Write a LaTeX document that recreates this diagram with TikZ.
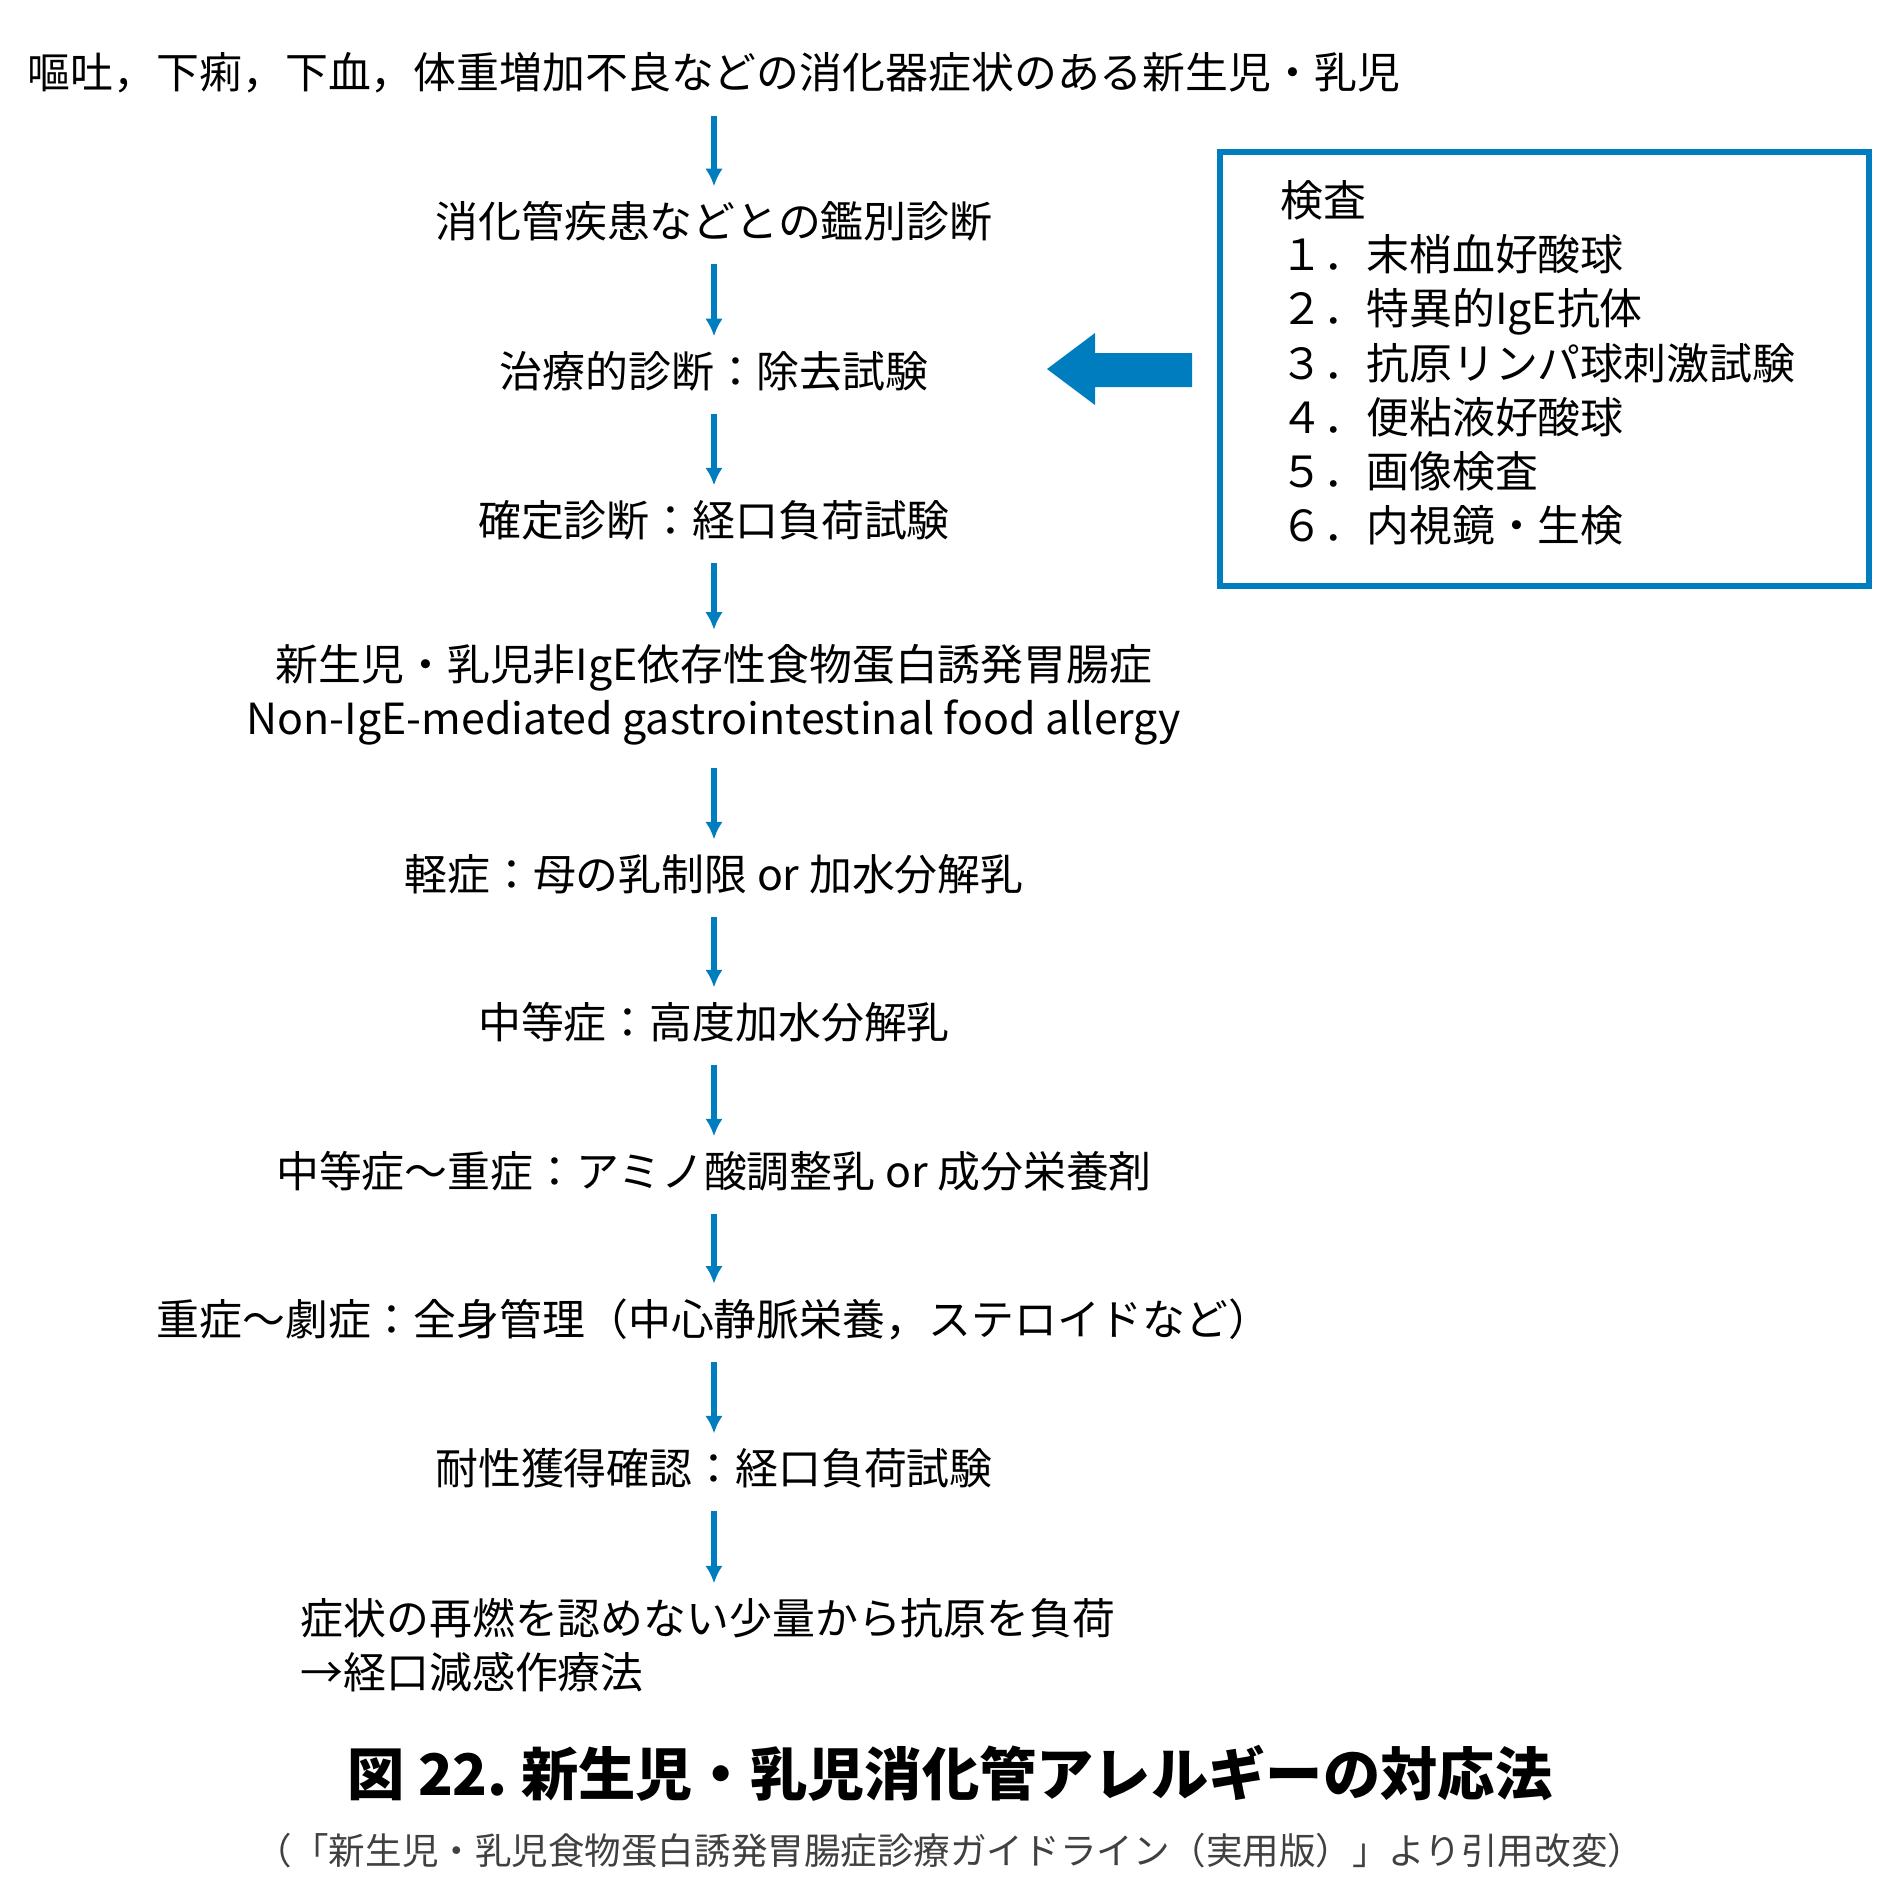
\documentclass[tikz,border=0pt]{standalone}
\usepackage{fontspec}
\setmainfont{Noto Sans CJK JP}
\usetikzlibrary{positioning}
\definecolor{flowblue}{RGB}{0,125,190}
\tikzset{
  step text/.style={inner sep=0pt, font=\fontsize{12.2}{15.4}\selectfont},
  flow arrow/.style={draw=flowblue, line width=1.5pt, -{Latex[length=5pt,width=5pt]}, shorten >=0.14cm, shorten <=0.22cm},
}
\usetikzlibrary{arrows.meta}
\begin{document}
\begin{tikzpicture}
  \useasboundingbox (0,0) rectangle (18.9,-18.9);
  % main column
  \node[step text] (s0) at (7.14,-0.73) {嘔吐，下痢，下血，体重増加不良などの消化器症状のある新生児・乳児};
  \node[step text] (s1) at (7.14,-2.21) {消化管疾患などとの鑑別診断};
  \node[step text] (s2) at (7.14,-3.71) {治療的診断：除去試験};
  \node[step text] (s3) at (7.14,-5.20) {確定診断：経口負荷試験};
  \node[step text, align=center] (s4) at (7.14,-6.95) {新生児・乳児非IgE依存性食物蛋白誘発胃腸症\\Non-IgE-mediated gastrointestinal food allergy};
  \node[step text] (s5) at (7.14,-8.74) {軽症：母の乳制限 or 加水分解乳};
  \node[step text] (s6) at (7.14,-10.22) {中等症：高度加水分解乳};
  \node[step text] (s7) at (7.14,-11.71) {中等症〜重症：アミノ酸調整乳 or 成分栄養剤};
  \node[step text] (s8) at (7.14,-13.19) {重症〜劇症：全身管理（中心静脈栄養，ステロイドなど）};
  \node[step text] (s9) at (7.14,-14.68) {耐性獲得確認：経口負荷試験};
  \node[step text, align=left, anchor=west] (s10) at (3.00,-16.45) {症状の再燃を認めない少量から抗原を負荷\\→経口減感作療法};
  \foreach \a/\b in {s0/s1,s1/s2,s2/s3,s3/s4,s4/s5,s5/s6,s6/s7,s7/s8,s8/s9}
    \draw[flow arrow] (\a.south) -- (\a.south |- \b.north);
  \draw[flow arrow] (s9.south) -- (s9.south |- s10.north);
  % tests box
  \draw[flowblue, line width=1.6pt] (12.20,-1.52) rectangle (18.69,-5.86);
  \node[step text, align=left, anchor=north west] (tests) at (12.80,-1.80)
    {検査\\ １．末梢血好酸球\\ ２．特異的IgE抗体\\ ３．抗原リンパ球刺激試験\\ ４．便粘液好酸球\\ ５．画像検査\\ ６．内視鏡・生検};
  \fill[flowblue] (11.92,-3.53) -- (10.95,-3.53) -- (10.95,-3.33) -- (10.47,-3.69)
    -- (10.95,-4.05) -- (10.95,-3.87) -- (11.92,-3.87) -- cycle;
  % caption
  \node[inner sep=0pt, font=\fontsize{16.3}{18}\selectfont\bfseries] (cap) at (9.50,-17.73) {図 22.\ 新生児・乳児消化管アレルギーの対応法};
  \node[inner sep=0pt, font=\fontsize{10.4}{12}\selectfont, text=black!75] (src) at (9.50,-18.51) {（「新生児・乳児食物蛋白誘発胃腸症診療ガイドライン（実用版）」より引用改変）};
\end{tikzpicture}
\end{document}
